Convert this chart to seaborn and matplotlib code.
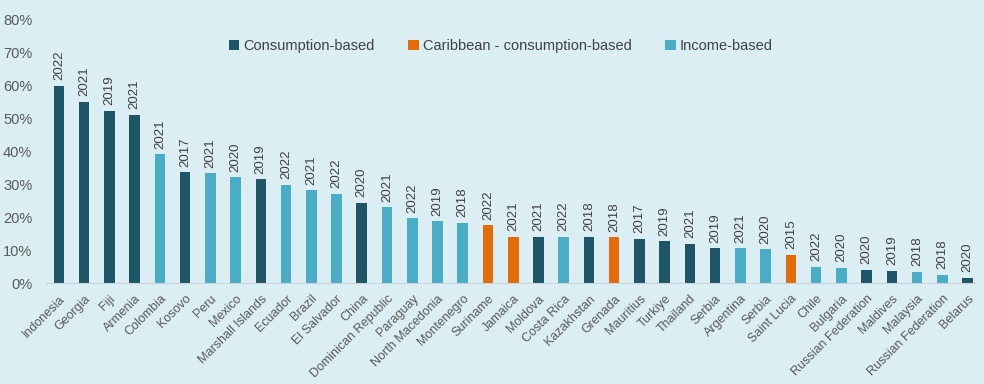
"""Poverty headcount by country, coloured by measurement basis."""

import matplotlib

matplotlib.use("Agg")

import matplotlib.pyplot as plt
import pandas as pd
import seaborn as sns
from matplotlib.ticker import PercentFormatter

countries = [
    "Indonesia", "Georgia", "Fiji", "Armenia", "Colombia", "Kosovo", "Peru", "Mexico",
    "Marshall Islands", "Ecuador", "Brazil", "El Salvador", "China", "Dominican Republic",
    "Paraguay", "North Macedonia", "Montenegro", "Suriname", "Jamaica", "Moldova",
    "Costa Rica", "Kazakhstan", "Grenada", "Mauritius", "Turkiye", "Thailand", "Serbia",
    "Argentina", "Serbia", "Saint Lucia", "Chile", "Bulgaria", "Russian Federation",
    "Maldives", "Malaysia", "Russian Federation", "Belarus",
]
shares = [
    0.600, 0.551, 0.523, 0.511, 0.391, 0.337, 0.334, 0.322, 0.315, 0.299, 0.282, 0.272,
    0.244, 0.230, 0.197, 0.188, 0.183, 0.176, 0.140, 0.140, 0.140, 0.140, 0.139, 0.134,
    0.127, 0.119, 0.106, 0.106, 0.102, 0.085, 0.049, 0.046, 0.041, 0.038, 0.034, 0.025,
    0.015,
]
years = [
    2022, 2021, 2019, 2021, 2021, 2017, 2021, 2020, 2019, 2022, 2021, 2022, 2020, 2021,
    2022, 2019, 2018, 2022, 2021, 2021, 2022, 2018, 2018, 2017, 2019, 2021, 2019, 2021,
    2020, 2015, 2022, 2020, 2020, 2019, 2018, 2018, 2020,
]
C, K, I = "Consumption-based", "Caribbean - consumption-based", "Income-based"
basis = [
    C, C, C, C, I, C, I, I, C, I, I, I, C, I, I, I, I, K, K, C, I, C, K, C, C, C, C,
    I, I, K, I, I, C, C, I, I, C,
]
palette = {C: "#1f5566", K: "#e36c0a", I: "#4bacc6"}

frame = pd.DataFrame({"pos": range(len(countries)), "share": shares, "basis": basis})

bg = "#dbeef4"
text_color = "#595959"
plt.rcParams["font.family"] = ["Liberation Sans", "DejaVu Sans"]

fig = plt.figure(figsize=(9.84, 3.84), dpi=100, facecolor=bg)
ax = fig.add_axes([0.047, 0.263, 0.944, 0.685], facecolor=bg)

sns.barplot(
    data=frame, x="pos", y="share", hue="basis", hue_order=[C, K, I],
    palette=palette, dodge=False, width=0.42, saturation=1, ax=ax,
)

for i, (value, year) in enumerate(zip(shares, years)):
    ax.text(i, value + 0.017, str(year), rotation=90, ha="center", va="bottom",
            fontsize=9.5, color="#404040")

ax.set_xlim(-0.5, 36.3)
ax.set_ylim(0, 0.8)
ax.yaxis.set_major_formatter(PercentFormatter(1.0, decimals=0))
ax.set_yticks([i / 10 for i in range(9)])
ax.set_xticks(range(len(countries)))
ax.set_xticklabels(countries, rotation=45, ha="right", rotation_mode="anchor",
                   fontsize=9, color=text_color)
ax.tick_params(axis="y", labelsize=10.5, labelcolor=text_color, length=0, pad=10)
ax.tick_params(axis="x", length=0, pad=7)
ax.set_xlabel("")
ax.set_ylabel("")
for side in ["top", "right", "left"]:
    ax.spines[side].set_visible(False)
ax.spines["bottom"].set_color("#c8d4d8")

ax.legend(
    loc="center", bbox_to_anchor=(0.509, 0.88), bbox_transform=fig.transFigure,
    ncol=3, frameon=False, fontsize=10.5, handlelength=0.7, handleheight=0.7,
    handletextpad=0.3, columnspacing=2.3, labelcolor="#404040",
)

fig.savefig("out.png", dpi=100, facecolor=bg)
plt.close(fig)
